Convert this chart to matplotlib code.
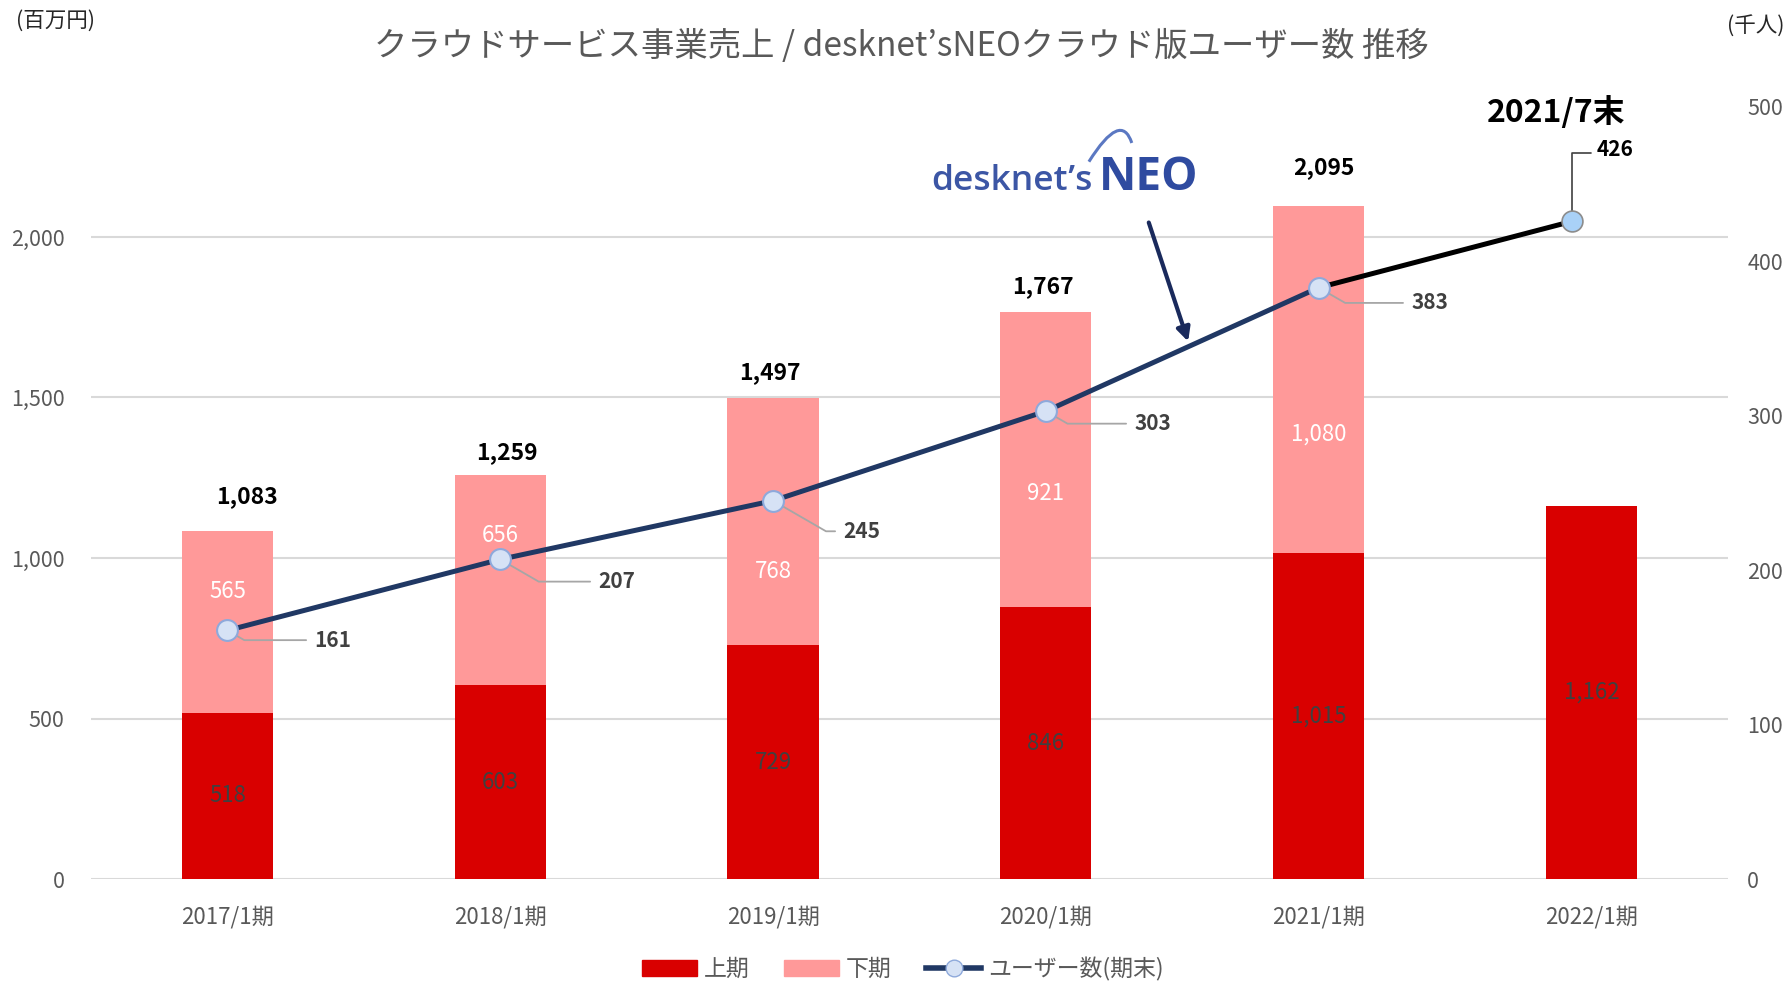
import numpy as np
import matplotlib
matplotlib.use("Agg")
import matplotlib.pyplot as plt
from matplotlib.patches import Patch, PathPatch, FancyArrowPatch
from matplotlib.path import Path
from matplotlib.lines import Line2D

plt.rcParams['font.family'] = ['Noto Sans CJK JP', 'DejaVu Sans']

# データ
periods = ["2017/1期", "2018/1期", "2019/1期", "2020/1期", "2021/1期", "2022/1期"]
first_half = [518, 603, 729, 846, 1015, 1162]      # 上期
second_half = [565, 656, 768, 921, 1080, 0]        # 下期
second_label_y = [895, 1069, 959, 1201, 1385]      # 下期ラベルの位置（元グラフで手動配置）
total_label_off = [(14, 25), (5, 16), (-2, 19), (-2, 18), (4, 28)]  # 合計ラベルのずれ(pt)
users = [161, 207, 245, 303, 383]                  # ユーザー数(期末) 千人
users_x = [0, 1, 2, 3, 4]
latest_users = 426                                 # 2021/7末
latest_x = 4.93

gray = "#595959"
red = "#D90000"
pink = "#FF9999"
navy = "#203864"

fig = plt.figure(figsize=(17.88, 9.86), dpi=100)
ax = fig.add_axes([0.0509, 0.1085, 0.9155, 0.783])

x = np.arange(len(periods))
w = 0.334
ax.bar(x, first_half, w, color=red, zorder=2)
ax.bar(x, second_half, w, bottom=first_half, color=pink, zorder=2)

ax.set_xlim(-0.5, 5.5)
ax.set_ylim(0, 2405)
ax.set_yticks([0, 500, 1000, 1500, 2000])
ax.set_yticklabels(["{:,}".format(v) for v in [0, 500, 1000, 1500, 2000]])
ax.set_xticks(x)
ax.set_xticklabels(periods)
ax.yaxis.grid(True, color="#D9D9D9", lw=1.5)
ax.set_axisbelow(True)
ax.tick_params(axis="y", length=0, pad=19, labelsize=15.5, labelcolor=gray)
ax.tick_params(axis="x", length=0, pad=19, labelsize=16, labelcolor=gray)
for s in ax.spines.values():
    s.set_visible(False)

# 棒の中のラベル
for i in range(len(periods)):
    ax.text(x[i], first_half[i] / 2, "{:,}".format(first_half[i]), ha="center", va="center",
            fontsize=16, color="#404040", zorder=3)
    if second_half[i] > 0:
        ax.text(x[i], second_label_y[i], "{:,}".format(second_half[i]), ha="center", va="center",
                fontsize=16, color="white", zorder=3)
        tot = first_half[i] + second_half[i]
        ax.annotate("{:,}".format(tot), (x[i], tot), xytext=total_label_off[i],
                    textcoords="offset points", ha="center", va="center",
                    fontsize=16.5, fontweight="bold", color="black")

# ユーザー数（右軸）
ax2 = ax.twinx()
ax2.set_ylim(0, 500)
ax2.set_yticks([0, 100, 200, 300, 400, 500])
ax2.tick_params(axis="y", length=0, pad=14, labelsize=15.5, labelcolor=gray)
for s in ax2.spines.values():
    s.set_visible(False)

ax2.plot([users_x[-1], latest_x], [users[-1], latest_users], color="black", lw=3.6,
         solid_capstyle="butt", zorder=3)
ax2.plot(latest_x, latest_users, "o", ms=15, mfc="#A9D1F7", mec="#8C8C8C", mew=1.2, zorder=5)
ax2.plot(users_x, users, color=navy, lw=3.6, marker="o", ms=15, mfc="#D6E2F5",
         mec="#8EA9DB", mew=1.5, zorder=4)

offsets = [(76, -7), (84, -16), (64, -22), (77, -9), (80, -11)]
for xi, u, off in zip(users_x, users, offsets):
    ax2.annotate(str(u), (xi, u), xytext=off, textcoords="offset points",
                 ha="center", va="center", fontsize=15, fontweight="bold", color="#404040",
                 arrowprops=dict(arrowstyle="-", color="#A6A6A6", lw=1.3, shrinkA=4, shrinkB=7,
                                 relpos=(0, 0.5),
                                 connectionstyle="angle,angleA=0,angleB=-30,rad=0"))
ax2.annotate(str(latest_users), (latest_x, latest_users), xytext=(31, 52), textcoords="offset points",
             ha="center", va="center", fontsize=15, fontweight="bold", color="black",
             arrowprops=dict(arrowstyle="-", color="#404040", lw=1.2, shrinkA=2, shrinkB=7,
                             relpos=(0, 0.3),
                             connectionstyle="angle,angleA=0,angleB=90,rad=0"))
ax2.annotate("2021/7末", (latest_x, latest_users), xytext=(-12, 78), textcoords="offset points",
             ha="center", va="center", fontsize=23, fontweight="bold", color="black")

# タイトル・単位
fig.text(0.504, 0.953, "クラウドサービス事業売上 / desknet’sNEOクラウド版ユーザー数 推移",
         ha="center", va="center", fontsize=24, color=gray)
fig.text(0.031, 0.979, "(百万円)", ha="center", va="center", fontsize=15.5, color="#262626")
fig.text(0.982, 0.973, "(千人)", ha="center", va="center", fontsize=15.5, color="#262626")

# ロゴ（文字で再現）
fig.text(0.521, 0.807, "desknet’s", ha="left", va="baseline", fontsize=25.5,
         family=["Open Sans", "DejaVu Sans"], fontweight="semibold", color="#3C56A5")
fig.text(0.6145, 0.807, "NEO", ha="left", va="baseline", fontsize=33,
         family=["Open Sans", "DejaVu Sans"], fontweight="bold", color="#2F4BA0")
swoosh = Path([(0.609, 0.836), (0.627, 0.888), (0.633, 0.855)],
              [Path.MOVETO, Path.CURVE3, Path.CURVE3])
fig.add_artist(PathPatch(swoosh, transform=fig.transFigure, fill=False,
                         edgecolor="#5B78C2", lw=2.2))

# 矢印
fig.add_artist(FancyArrowPatch((0.642, 0.777), (0.665, 0.651),
               transform=fig.transFigure, arrowstyle="-|>", mutation_scale=20,
               color="#1A2A5C", lw=3))

# 凡例
handles = [Patch(color=red), Patch(color=pink),
           Line2D([], [], color=navy, lw=4, marker="o", ms=12, mfc="#D6E2F5", mec="#8EA9DB")]
fig.legend(handles, ["上期", "下期", "ユーザー数(期末)"], loc="center",
           bbox_to_anchor=(0.505, 0.017), ncol=3, frameon=False, fontsize=16.5,
           labelcolor=gray, handlelength=2.4, handleheight=0.7, columnspacing=1.5,
           handletextpad=0.3, borderpad=0.2)

fig.savefig("out.png", dpi=100)
